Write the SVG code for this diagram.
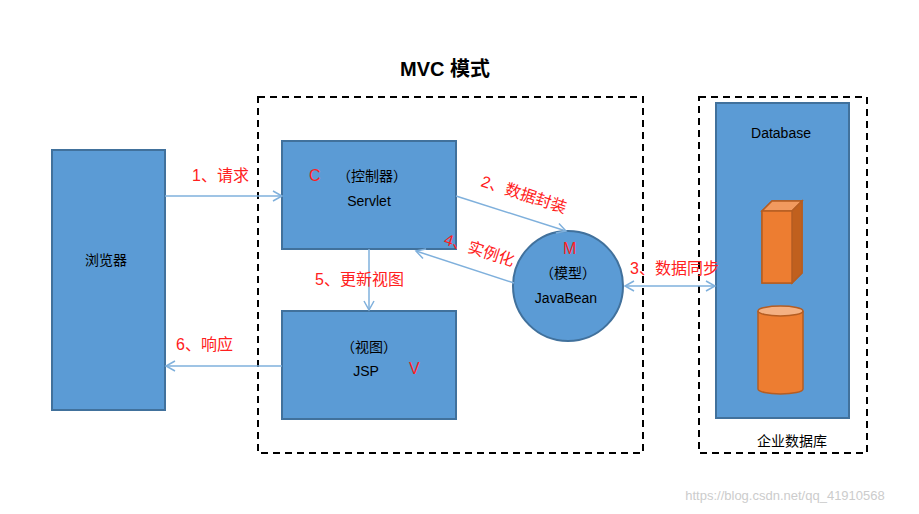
<svg xmlns="http://www.w3.org/2000/svg" width="919" height="514" viewBox="0 0 919 514">
<style>
.n{fill:#5b9bd5;stroke:#41719c;stroke-width:2}
.t{font-family:"Liberation Sans","Noto Sans CJK SC",sans-serif;font-size:14px;fill:#000;text-anchor:middle}
.r{font-family:"Liberation Sans","Noto Sans CJK SC",sans-serif;font-size:16px;fill:#ff2020}
.d{fill:none;stroke:#000;stroke-width:2;stroke-dasharray:7,5}
.c{stroke:#7fb0dc;stroke-width:1.5;fill:none}
</style>
<defs><marker id="a" markerWidth="12" markerHeight="12" refX="10" refY="6" orient="auto" markerUnits="userSpaceOnUse"><path d="M1,1 L10,6 L1,11" fill="none" stroke="#7fb0dc" stroke-width="1.5"/></marker></defs>
<rect width="919" height="514" fill="#fff"/>
<text x="445" y="76" font-family="Liberation Sans,Noto Sans CJK SC,sans-serif" font-size="20" font-weight="bold" text-anchor="middle">MVC 模式</text>
<rect class="d" x="258" y="97" width="385" height="356"/>
<rect class="d" x="699" y="97" width="168" height="356"/>
<g id="browser"><rect class="n" x="52" y="150" width="113" height="260"/><text class="t" x="106" y="265">浏览器</text></g>
<g id="controller"><rect class="n" x="282" y="141" width="174" height="108"/><text class="t" x="372" y="181" font-size="16">（控制器）</text><text class="r" x="309" y="181" font-size="13">C</text><text class="t" x="369" y="206">Servlet</text></g>
<g id="view"><rect class="n" x="282" y="311" width="174" height="108"/><text class="t" x="369" y="352" font-size="16">（视图）</text><text class="t" x="366" y="376">JSP</text><text class="r" x="409" y="374" font-size="13">V</text></g>
<g id="model"><circle class="n" cx="568" cy="286" r="55"/><text class="r" x="563" y="254" font-size="13">M</text><text class="t" x="568" y="278" font-size="16">（模型）</text><text class="t" x="566" y="303">JavaBean</text></g>
<g id="db"><rect class="n" x="716" y="103" width="133" height="315"/><text class="t" x="781" y="138">Database</text>
<path d="M762,211 L772,201 L802,201 L802,273 L792,283 L762,283Z" fill="#ed7d31" stroke="#b55d22" stroke-width="1.5"/>
<path d="M762,211 L772,201 L802,201 L792,211Z" fill="#f19a5f" stroke="#b55d22" stroke-width="1.5"/>
<path d="M792,211 L802,201 L802,273 L792,283Z" fill="#c0601e" stroke="#b55d22" stroke-width="1.5"/>
<rect x="762" y="211" width="30" height="72" fill="#ed7d31" stroke="#b55d22" stroke-width="1.5"/>
<path d="M758,311 L758,389 A22.5,5 0 0 0 803,389 L803,311" fill="#ed7d31" stroke="#b55d22" stroke-width="1.5"/>
<ellipse cx="780.5" cy="311" rx="22.5" ry="5" fill="#f4b183" stroke="#b55d22" stroke-width="1.5"/>
<text class="t" x="792" y="446" font-size="16">企业数据库</text></g>
<g id="connectors">
<line class="c" x1="165" y1="196" x2="282" y2="196" marker-end="url(#a)"/>
<line class="c" x1="456" y1="196" x2="566" y2="231" marker-end="url(#a)"/>
<line class="c" x1="514" y1="283" x2="416" y2="251" marker-end="url(#a)"/>
<line class="c" x1="369" y1="249" x2="369" y2="310" marker-end="url(#a)"/>
<line class="c" x1="282" y1="366" x2="166" y2="366" marker-end="url(#a)"/>
<line class="c" x1="625" y1="286" x2="715" y2="286" marker-end="url(#a)"/>
<path d="M634,281 L625,286 L634,291" class="c"/>
</g>
<text class="r" x="192" y="181">1、请求</text>
<text class="r" x="480" y="186" transform="rotate(18 480 186)">2、数据封装</text>
<text class="r" x="443" y="244" transform="rotate(18 443 244)">4、实例化</text>
<text class="r" x="630" y="274">3、数据同步</text>
<text class="r" x="315" y="285">5、更新视图</text>
<text class="r" x="176" y="350">6、响应</text>
<text x="785" y="500" font-family="Liberation Sans,sans-serif" font-size="13" fill="#ccc" text-anchor="middle">https://blog.csdn.net/qq_41910568</text>
</svg>
